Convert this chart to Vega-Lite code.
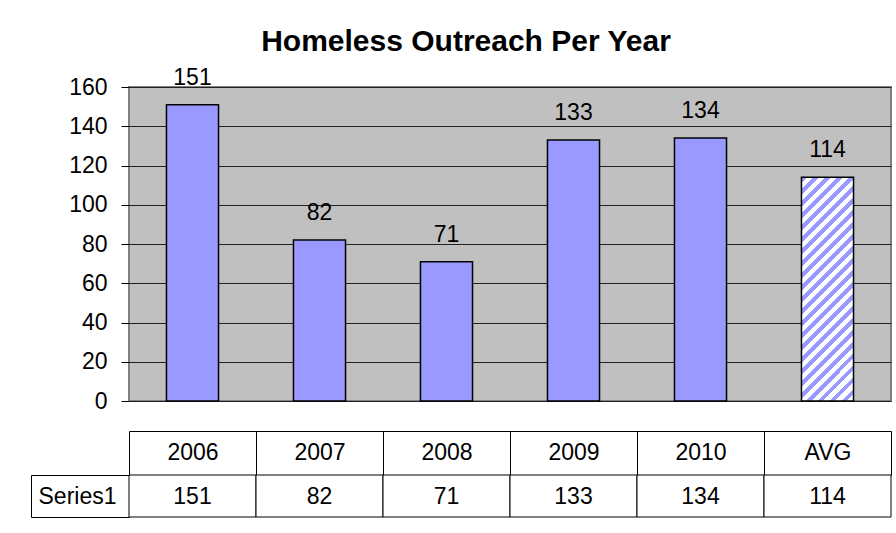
{
  "$schema": "https://vega.github.io/schema/vega-lite/v6.json",
  "padding": {"left": 30, "top": 25, "right": 6, "bottom": 10},
  "background": "white",
  "bounds": "flush",
  "spacing": 74,
  "config": {
    "font": "Liberation Sans",
    "view": {"stroke": null},
    "axis": {"labelFont": "Liberation Sans", "labelColor": "#000", "titleColor": "#000"},
    "text": {"font": "Liberation Sans", "color": "#000"}
  },
  "datasets": {
    "outreach": [
      {"year": "2006", "value": 151},
      {"year": "2007", "value": 82},
      {"year": "2008", "value": 71},
      {"year": "2009", "value": 133},
      {"year": "2010", "value": 134},
      {"year": "AVG", "value": 114}
    ]
  },
  "vconcat": [
    {
      "width": 762,
      "height": 314,
      "data": {"name": "outreach"},
      "title": {
        "text": "Homeless Outreach Per Year",
        "font": "Liberation Sans",
        "fontSize": 30,
        "fontWeight": "bold",
        "color": "#000",
        "anchor": "middle",
        "dx": -44,
        "offset": 10
      },
      "view": {"fill": "#C0C0C0", "stroke": "#808080", "strokeWidth": 2},
      "encoding": {
        "x": {
          "field": "year",
          "type": "nominal",
          "sort": null,
          "scale": {"paddingInner": 0, "paddingOuter": 0},
          "axis": {
            "orient": "bottom",
            "offset": 30,
            "title": null,
            "domain": true,
            "domainColor": "#000",
            "domainWidth": 1,
            "ticks": true,
            "tickBand": "extent",
            "tickSize": 44,
            "tickColor": "#000",
            "tickWidth": 1,
            "labelFontSize": 23,
            "labelAngle": 0,
            "labelBaseline": "alphabetic",
            "labelPadding": -16
          }
        },
        "y": {
          "field": "value",
          "type": "quantitative",
          "scale": {"domain": [0, 160], "nice": false},
          "axis": {
            "title": null,
            "values": [0, 20, 40, 60, 80, 100, 120, 140, 160],
            "grid": true,
            "gridColor": "#222222",
            "gridWidth": 1,
            "gridOpacity": 1,
            "domain": false,
            "ticks": true,
            "tickSize": 8,
            "tickColor": "#000",
            "labelFontSize": 23,
            "labelPadding": 14
          }
        }
      },
      "layer": [
        {
          "transform": [{"filter": "datum.year !== 'AVG'"}],
          "mark": {"type": "bar", "width": {"band": 0.41}, "fill": "#9999FF", "stroke": "#000", "strokeWidth": 1.5}
        },
        {
          "transform": [{"filter": "datum.year === 'AVG'"}],
          "mark": {
            "type": "bar",
            "width": {"band": 0.41},
            "stroke": "#000",
            "strokeWidth": 1.5,
            "fill": {
              "gradient": "linear",
              "x1": 0, "y1": 0, "x2": 0.2722, "y2": 1.1695,
              "stops": [
                {"offset": 0, "color": "#9999FF"}, {"offset": 0.0196, "color": "#9999FF"}, {"offset": 0.0196, "color": "#FFFFFF"}, {"offset": 0.0435, "color": "#FFFFFF"},
                {"offset": 0.0435, "color": "#9999FF"}, {"offset": 0.0630, "color": "#9999FF"}, {"offset": 0.0630, "color": "#FFFFFF"}, {"offset": 0.0870, "color": "#FFFFFF"},
                {"offset": 0.0870, "color": "#9999FF"}, {"offset": 0.1065, "color": "#9999FF"}, {"offset": 0.1065, "color": "#FFFFFF"}, {"offset": 0.1304, "color": "#FFFFFF"},
                {"offset": 0.1304, "color": "#9999FF"}, {"offset": 0.1500, "color": "#9999FF"}, {"offset": 0.1500, "color": "#FFFFFF"}, {"offset": 0.1739, "color": "#FFFFFF"},
                {"offset": 0.1739, "color": "#9999FF"}, {"offset": 0.1935, "color": "#9999FF"}, {"offset": 0.1935, "color": "#FFFFFF"}, {"offset": 0.2174, "color": "#FFFFFF"},
                {"offset": 0.2174, "color": "#9999FF"}, {"offset": 0.2370, "color": "#9999FF"}, {"offset": 0.2370, "color": "#FFFFFF"}, {"offset": 0.2609, "color": "#FFFFFF"},
                {"offset": 0.2609, "color": "#9999FF"}, {"offset": 0.2804, "color": "#9999FF"}, {"offset": 0.2804, "color": "#FFFFFF"}, {"offset": 0.3043, "color": "#FFFFFF"},
                {"offset": 0.3043, "color": "#9999FF"}, {"offset": 0.3239, "color": "#9999FF"}, {"offset": 0.3239, "color": "#FFFFFF"}, {"offset": 0.3478, "color": "#FFFFFF"},
                {"offset": 0.3478, "color": "#9999FF"}, {"offset": 0.3674, "color": "#9999FF"}, {"offset": 0.3674, "color": "#FFFFFF"}, {"offset": 0.3913, "color": "#FFFFFF"},
                {"offset": 0.3913, "color": "#9999FF"}, {"offset": 0.4109, "color": "#9999FF"}, {"offset": 0.4109, "color": "#FFFFFF"}, {"offset": 0.4348, "color": "#FFFFFF"},
                {"offset": 0.4348, "color": "#9999FF"}, {"offset": 0.4543, "color": "#9999FF"}, {"offset": 0.4543, "color": "#FFFFFF"}, {"offset": 0.4783, "color": "#FFFFFF"},
                {"offset": 0.4783, "color": "#9999FF"}, {"offset": 0.4978, "color": "#9999FF"}, {"offset": 0.4978, "color": "#FFFFFF"}, {"offset": 0.5217, "color": "#FFFFFF"},
                {"offset": 0.5217, "color": "#9999FF"}, {"offset": 0.5413, "color": "#9999FF"}, {"offset": 0.5413, "color": "#FFFFFF"}, {"offset": 0.5652, "color": "#FFFFFF"},
                {"offset": 0.5652, "color": "#9999FF"}, {"offset": 0.5848, "color": "#9999FF"}, {"offset": 0.5848, "color": "#FFFFFF"}, {"offset": 0.6087, "color": "#FFFFFF"},
                {"offset": 0.6087, "color": "#9999FF"}, {"offset": 0.6283, "color": "#9999FF"}, {"offset": 0.6283, "color": "#FFFFFF"}, {"offset": 0.6522, "color": "#FFFFFF"},
                {"offset": 0.6522, "color": "#9999FF"}, {"offset": 0.6717, "color": "#9999FF"}, {"offset": 0.6717, "color": "#FFFFFF"}, {"offset": 0.6957, "color": "#FFFFFF"},
                {"offset": 0.6957, "color": "#9999FF"}, {"offset": 0.7152, "color": "#9999FF"}, {"offset": 0.7152, "color": "#FFFFFF"}, {"offset": 0.7391, "color": "#FFFFFF"},
                {"offset": 0.7391, "color": "#9999FF"}, {"offset": 0.7587, "color": "#9999FF"}, {"offset": 0.7587, "color": "#FFFFFF"}, {"offset": 0.7826, "color": "#FFFFFF"},
                {"offset": 0.7826, "color": "#9999FF"}, {"offset": 0.8022, "color": "#9999FF"}, {"offset": 0.8022, "color": "#FFFFFF"}, {"offset": 0.8261, "color": "#FFFFFF"},
                {"offset": 0.8261, "color": "#9999FF"}, {"offset": 0.8457, "color": "#9999FF"}, {"offset": 0.8457, "color": "#FFFFFF"}, {"offset": 0.8696, "color": "#FFFFFF"},
                {"offset": 0.8696, "color": "#9999FF"}, {"offset": 0.8891, "color": "#9999FF"}, {"offset": 0.8891, "color": "#FFFFFF"}, {"offset": 0.9130, "color": "#FFFFFF"},
                {"offset": 0.9130, "color": "#9999FF"}, {"offset": 0.9326, "color": "#9999FF"}, {"offset": 0.9326, "color": "#FFFFFF"}, {"offset": 0.9565, "color": "#FFFFFF"},
                {"offset": 0.9565, "color": "#9999FF"}, {"offset": 0.9761, "color": "#9999FF"}, {"offset": 0.9761, "color": "#FFFFFF"}, {"offset": 1, "color": "#FFFFFF"}
              ]
            }
          }
        },
        {
          "mark": {"type": "text", "baseline": "alphabetic", "dy": -20, "fontSize": 23, "font": "Liberation Sans", "color": "#000"},
          "encoding": {"text": {"field": "value", "type": "quantitative"}}
        }
      ]
    },
    {
      "width": 762,
      "height": 42,
      "data": {"name": "outreach"},
      "encoding": {
        "x": {
          "field": "year",
          "type": "nominal",
          "sort": null,
          "scale": {"paddingInner": 0, "paddingOuter": 0},
          "axis": null
        },
        "y": {
          "datum": "Series1",
          "type": "nominal",
          "scale": {"paddingInner": 0, "paddingOuter": 0},
          "axis": {
            "orient": "left",
            "offset": 98,
            "title": null,
            "domain": true,
            "domainColor": "#000",
            "domainWidth": 1,
            "ticks": true,
            "tickBand": "extent",
            "tickSize": -98,
            "tickColor": "#000",
            "tickWidth": 1,
            "labelFontSize": 23,
            "labelAlign": "left",
            "labelPadding": 91
          }
        }
      },
      "layer": [
        {
          "mark": {"type": "rect", "fill": "#FFFFFF", "stroke": "#000", "strokeWidth": 1}
        },
        {
          "mark": {"type": "text", "baseline": "alphabetic", "dy": 8, "fontSize": 23, "font": "Liberation Sans", "color": "#000"},
          "encoding": {"text": {"field": "value", "type": "quantitative"}}
        }
      ]
    }
  ]
}
